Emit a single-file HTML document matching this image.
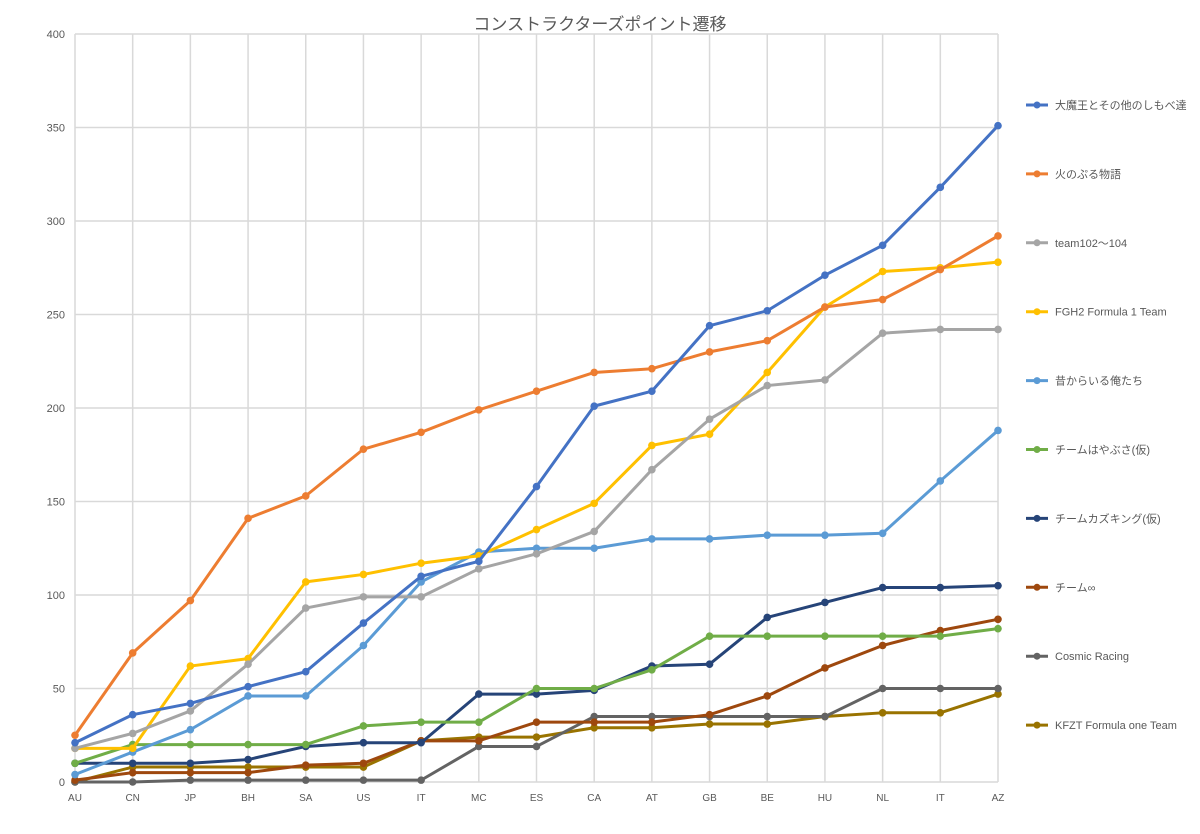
<!DOCTYPE html>
<html><head><meta charset="utf-8"><style>
body{margin:0;background:#fff;font-family:"Liberation Sans","Noto Sans CJK JP",sans-serif}
</style></head><body>
<svg id="c" width="1200" height="834" style="display:block">
<text x="600" y="30" text-anchor="middle" font-size="17" fill="#595959" font-family="Liberation Sans, Noto Sans CJK JP, sans-serif">コンストラクターズポイント遷移</text>
</svg>
<script>
const categories=["AU","CN","JP","BH","SA","US","IT","MC","ES","CA","AT","GB","BE","HU","NL","IT","AZ"];
const yTicks=[0,50,100,150,200,250,300,350,400];
const seriesNames=["大魔王とその他のしもべ達","火のぷる物語","team102～104","FGH2 Formula 1 Team","昔からいる俺たち","チームはやぶさ(仮)","チームカズキング(仮)","チーム∞","Cosmic Racing","KFZT Formula one Team"];
const s1=[21,36,42,51,59,85,110,118,158,201,209,244,252,271,287,318,351];
const s2=[25,69,97,141,153,178,187,199,209,219,221,230,236,254,258,274,292];
const s3=[18,26,38,63,93,99,99,114,122,134,167,194,212,215,240,242,242];
const s4=[18,18,62,66,107,111,117,121,135,149,180,186,219,254,273,275,278];
const s5=[4,16,28,46,46,73,107,123,125,125,130,130,132,132,133,161,188];
const s6=[10,20,20,20,20,30,32,32,50,50,60,78,78,78,78,78,82];
const s7=[10,10,10,12,19,21,21,47,47,49,62,63,88,96,104,104,105];
const s8=[1,5,5,5,9,10,22,22,32,32,32,36,46,61,73,81,87];
const s9=[0,0,1,1,1,1,1,19,19,35,35,35,35,35,50,50,50];
const s10=[0,8,8,8,8,8,22,24,24,29,29,31,31,35,37,37,47];
const series=[s1,s2,s3,s4,s5,s6,s7,s8,s9,s10];
const colors=["#4472C4","#ED7D31","#A5A5A5","#FFC000","#5B9BD5","#70AD47","#264478","#9E480E","#636363","#997300"];
const svg=document.getElementById('c');const NS="http://www.w3.org/2000/svg";
const x0=75,x1=998,y0=782,yTop=34,yMax=400;
const X=i=>x0+(x1-x0)*i/(categories.length-1);
const Y=v=>y0-(y0-yTop)*v/yMax;
function mk(t,a){const e=document.createElementNS(NS,t);for(const k in a)e.setAttribute(k,a[k]);svg.appendChild(e);return e;}
yTicks.forEach(v=>{
 const l=mk('line',{x1:x0,x2:x1,y1:Y(v),y2:Y(v),stroke:'#d9d9d9','stroke-width':1.5});
 
 
 const t=mk('text',{x:x0-10,y:Y(v)+4,'text-anchor':'end','font-size':11,fill:'#595959'});t.textContent=v;
 
 
});
categories.forEach((c,i)=>{
 const l=mk('line',{x1:X(i),x2:X(i),y1:yTop,y2:y0,stroke:'#d9d9d9','stroke-width':1.5});
 
 
 const t=mk('text',{x:X(i),y:y0+19,'text-anchor':'middle','font-size':10,fill:'#595959'});t.textContent=c;
 
 
});
for(let k=series.length-1;k>=0;k--){
 const d=series[k];
 const p=mk('polyline',{points:d.map((v,i)=>X(i)+','+Y(v)).join(' '),fill:'none',stroke:colors[k],'stroke-width':3,'stroke-linejoin':'round'});
 
 
 d.forEach((v,i)=>{const c=mk('circle',{cx:X(i),cy:Y(v),r:3.8,fill:colors[k]});
 
 });
}
seriesNames.forEach((n,k)=>{
 const y=105+k*68.9;
 const l=mk('line',{x1:1026,x2:1048,y1:y,y2:y,stroke:colors[k],'stroke-width':3});
 
 
 const c=mk('circle',{cx:1037,cy:y,r:3.5,fill:colors[k]});
 
 
 const t=mk('text',{x:1055,y:y+4,'font-size':11,fill:'#595959'});t.textContent=n;
 
 
});
</script>
</body></html>
